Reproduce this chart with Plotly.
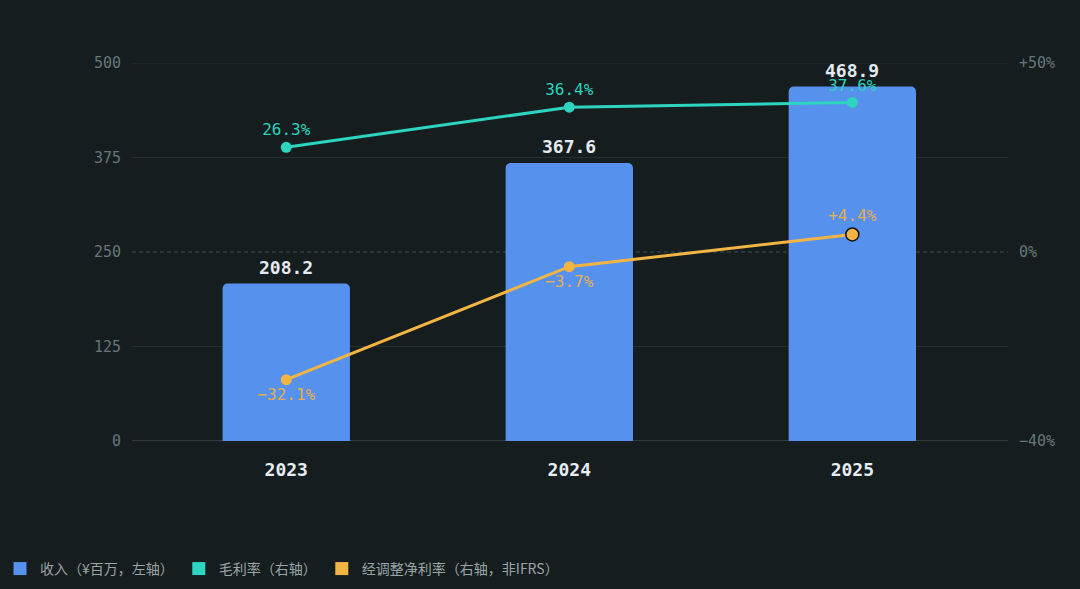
import plotly.graph_objects as go

years = ["2023", "2024", "2025"]
revenue = [208.2, 367.6, 468.9]
gross_margin = [26.3, 36.4, 37.6]
adj_net_margin = [-32.1, -3.7, 4.4]

left_ticks = [0, 125, 250, 375, 500]
right_tickvals = [-47.5, 0, 47.5]
right_ticktext = ["−40%", "0%", "+50%"]

bg = "#151d1e"
blue = "#5591ed"
teal = "#2dd4bf"
orange = "#f2b544"
mono = "DejaVu Sans Mono"
cjk = "Noto Sans CJK SC"

fig = go.Figure()

fig.add_trace(go.Bar(
    x=years, y=revenue, width=0.45,
    marker=dict(color=blue, line=dict(width=0)),
    showlegend=False, hoverinfo="skip"))

fig.add_trace(go.Scatter(
    x=years, y=gross_margin, yaxis="y2", mode="lines+markers+text",
    line=dict(color=teal, width=3), marker=dict(color=teal, size=11),
    text=[f"{v:.1f}%" for v in gross_margin], textposition="top center",
    textfont=dict(family=mono, size=16, color=teal),
    cliponaxis=False, showlegend=False))

fig.add_trace(go.Scatter(
    x=years, y=adj_net_margin, yaxis="y2", mode="lines+markers+text",
    line=dict(color=orange, width=3),
    marker=dict(color=orange, size=[11, 11, 13], opacity=1,
                line=dict(color=[orange, orange, "#111111"], width=[0, 0, 1.5])),
    text=[("+" if v > 0 else "−") + f"{abs(v):.1f}%" for v in adj_net_margin],
    textposition=["bottom center", "bottom center", "top center"],
    textfont=dict(family=mono, size=16, color="#e6ae50"),
    cliponaxis=False, showlegend=False))

# legend-only entries
for name, c in [("收入（¥百万，左轴）", blue), ("毛利率（右轴）", teal),
                ("经调整净利率（右轴，非IFRS）", orange)]:
    fig.add_trace(go.Scatter(x=[None], y=[None], mode="markers", name=name,
                             marker=dict(symbol="square", size=13, color=c)))

# bar value labels (category index on the x axis)
for i, v in enumerate(revenue):
    fig.add_annotation(x=i, y=v, xref="x", yref="y", text=f"<b>{v:.1f}</b>",
                       showarrow=False, yanchor="bottom", yshift=4,
                       font=dict(family=mono, size=18, color="#e3eaf2"))

shapes = []
for v in left_ticks:
    if v == 0:
        line = dict(color="#3a4748", width=1.5)
    elif v == 250:
        line = dict(color="#3c5052", width=1, dash="4px,3px")
    else:
        line = dict(color="#26312f", width=1)
    shapes.append(dict(type="line", xref="paper", x0=0, x1=1, yref="y", y0=v, y1=v,
                       line=line, layer="below"))

fig.update_layout(
    width=1080, height=589,
    paper_bgcolor=bg, plot_bgcolor=bg,
    margin=dict(l=132, r=72, t=63, b=148, autoexpand=False),
    barcornerradius=5,
    shapes=shapes,
    xaxis=dict(type="category", range=[-0.545, 2.55], showgrid=False, zeroline=False,
               showline=False, ticks="",
               tickfont=dict(family=mono, size=18, color="#e6edf3", weight="bold"),
               ticklabelstandoff=16),
    yaxis=dict(range=[0, 500], tickvals=left_ticks, showgrid=False, zeroline=False,
               tickfont=dict(family=mono, size=15, color="#66767a"), ticklabelstandoff=10),
    yaxis2=dict(overlaying="y", side="right", range=[-47.5, 47.5],
                tickvals=right_tickvals, ticktext=right_ticktext, showgrid=False,
                zeroline=False, tickfont=dict(family=mono, size=15, color="#66767a"),
                ticklabelstandoff=10),
    legend=dict(orientation="h", xref="container", yref="container",
                x=0.0, xanchor="left", y=0.034, yanchor="middle",
                font=dict(family=cjk, size=14, color="#9aa5a8"), itemwidth=30,
                bgcolor="rgba(0,0,0,0)"),
)

page_css = ("document.documentElement.style.margin='0';"
            "document.documentElement.style.overflow='hidden';"
            "document.body.style.margin='0';"
            "document.body.style.overflow='hidden';"
            "document.body.style.background='%s';" % bg)
fig.write_html("out.html", config={"displayModeBar": False}, post_script=page_css)
